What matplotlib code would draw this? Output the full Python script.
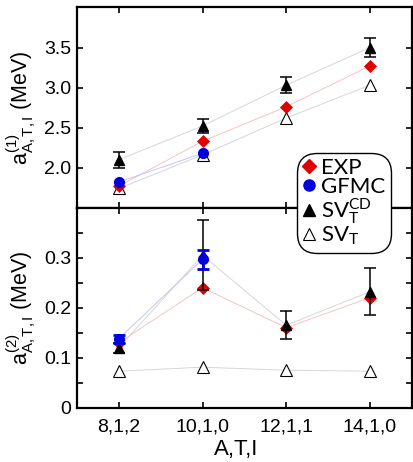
import numpy as np
import matplotlib
matplotlib.use("Agg")
import matplotlib.pyplot as plt

plt.rcParams["font.family"] = ["Liberation Sans", "DejaVu Sans"]
plt.rcParams["mathtext.fontset"] = "custom"
plt.rcParams["mathtext.rm"] = "Liberation Sans"
plt.rcParams["mathtext.it"] = "Liberation Sans"
plt.rcParams["mathtext.bf"] = "Liberation Sans:bold"

categories = ["8,1,2", "10,1,0", "12,1,1", "14,1,0"]

# first-order coefficient a^(1)
exp_1 = [1.77, 2.33, 2.76, 3.27]
gfmc_1 = [1.82, 2.18, np.nan, np.nan]
svcd_1 = [2.10, 2.52, 3.03, 3.50]
svcd_1_err = [0.10, 0.09, 0.10, 0.12]
svt_1 = [1.74, 2.16, 2.62, 3.03]

# second-order coefficient a^(2)
exp_2 = [0.13, 0.24, 0.16, 0.22]
gfmc_2 = [0.138, 0.297, np.nan, np.nan]
gfmc_2_err = [0.008, 0.019, np.nan, np.nan]
svcd_2 = [0.12, 0.305, 0.165, 0.232]
svcd_2_err = [0.01, 0.07, 0.028, 0.047]
svt_2 = [0.073, 0.081, 0.075, 0.073]

RED = "#e00000"
BLUE = "#0000dd"
C_RED_LINE = "#f6c4c4"
C_BLUE_LINE = "#c6c6ec"
C_GRAY_LINE = "#d6d6d6"

W, H = 413, 462
fig = plt.figure(figsize=(W / 100, H / 100), dpi=100)
left, right = 77 / W, 411.7 / W
ax1 = fig.add_axes([left, (H - 207.7) / H, right - left, 200.2 / H])
ax2 = fig.add_axes([left, (H - 407.7) / H, right - left, 200.0 / H])

x = np.arange(len(categories))


def draw_panel(ax, exp, gfmc, gfmc_err, svcd, svcd_err, svt):
    ax.plot(x, svt, color=C_GRAY_LINE, lw=0.7, zorder=1)
    ax.plot(x, svcd, color=C_GRAY_LINE, lw=0.7, zorder=1)
    ax.plot(x, exp, color=C_RED_LINE, lw=0.7, zorder=1)
    ax.plot(x, gfmc, color=C_BLUE_LINE, lw=0.7, zorder=1)
    ax.plot(x, svt, ls="none", marker="^", ms=8, mfc="white", mec="black",
            mew=0.8, zorder=2)
    ax.plot(x, exp, ls="none", marker="D", ms=6.5, mfc=RED, mec=RED,
            mew=0.5, zorder=3)
    ax.plot(x, svcd, ls="none", marker="^", ms=7.5, mfc="black", mec="black",
            zorder=4)
    ax.plot(x, gfmc, ls="none", marker="o", ms=7, mfc=BLUE, mec=BLUE,
            zorder=5)
    ax.errorbar(x, svcd, yerr=svcd_err, fmt="none", ecolor="black",
                elinewidth=1.1, capsize=4, capthick=1.1, zorder=6)
    if gfmc_err is not None:
        ax.errorbar(x, gfmc, yerr=gfmc_err, fmt="none", ecolor=BLUE,
                    elinewidth=2.0, capsize=4, capthick=2.0, zorder=7)
    ax.set_xlim(-0.5, 3.5)
    for sp in ax.spines.values():
        sp.set_linewidth(1.6)
    ax.tick_params(which="both", direction="in", top=True, right=True,
                   length=4.5, width=1.2, labelsize=14, pad=4)
    ax.tick_params(axis="x", pad=8)
    ax.set_xticks(x)


draw_panel(ax1, exp_1, gfmc_1, None, svcd_1, svcd_1_err, svt_1)
draw_panel(ax2, exp_2, gfmc_2, gfmc_2_err, svcd_2, svcd_2_err, svt_2)

ax1.set_ylim(1.5, 4.0)
ax1.set_yticks([2.0, 2.5, 3.0, 3.5])
ax1.set_yticklabels(["2.0", "2.5", "3.0", "3.5"])
ax1.set_xticklabels([])

ax2.set_ylim(0, 0.4)
ax2.set_yticks([0, 0.1, 0.2, 0.3])
ax2.set_yticklabels(["0", "0.1", "0.2", "0.3"])
ax2.set_yticks([0.05, 0.15, 0.25, 0.35], minor=True)
ax2.tick_params(which="minor", direction="in", left=True, right=True,
                length=4.5, width=1.2)
ax2.set_xticklabels(categories)

ax1.set_ylabel(r"$\mathregular{a^{(1)}_{A,T,I}}$ (MeV)", fontsize=15.5)
ax2.set_ylabel(r"$\mathregular{a^{(2)}_{A,T,I}}$ (MeV)", fontsize=15.5)
ax1.yaxis.set_label_coords(-0.118, 0.5)
ax2.yaxis.set_label_coords(-0.118, 0.5)
ax2.set_xlabel("A,T,I", fontsize=16)
ax2.xaxis.set_label_coords(0.475, -0.155)

handles = [
    plt.Line2D([], [], ls="none", marker="D", ms=7, mfc=RED, mec=RED),
    plt.Line2D([], [], ls="none", marker="o", ms=8, mfc=BLUE, mec=BLUE),
    plt.Line2D([], [], ls="none", marker="^", ms=8, mfc="black", mec="black"),
    plt.Line2D([], [], ls="none", marker="^", ms=8, mfc="white", mec="black",
               mew=0.8),
]
labels = ["EXP", "GFMC", r"SV$_\mathregular{T}^\mathregular{CD}$",
          r"SV$_\mathregular{T}$"]
leg = fig.legend(handles, labels, loc="upper left",
                 bbox_to_anchor=(296.7 / W, 1 - 152.7 / H),
                 bbox_transform=fig.transFigure,
                 prop={"family": ["Lato", "DejaVu Sans"], "size": 16},
                 handlelength=0.6, handletextpad=0.25, labelspacing=-0.05,
                 borderpad=0.25, borderaxespad=0, frameon=True, fancybox=True,
                 framealpha=1, edgecolor="black")
leg.get_frame().set_linewidth(1.0)
leg.get_frame().set_boxstyle("round", pad=0.0, rounding_size=0.9)
leg.set_zorder(10)

fig.savefig("out.png", dpi=100)
